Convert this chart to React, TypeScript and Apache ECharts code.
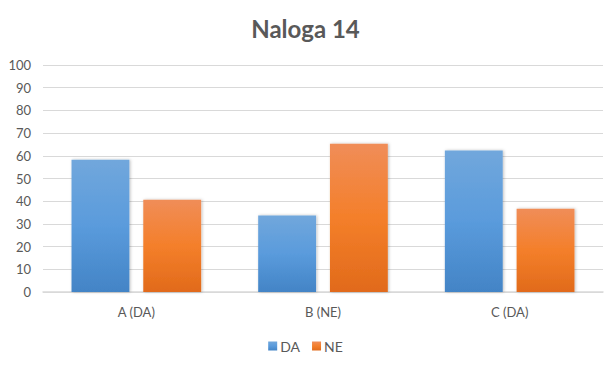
import React, { useEffect, useRef } from "react";
import * as echarts from "echarts";

const categories = ["A (DA)", "B (NE)", "C (DA)"];
const daValues = [58.3, 33.7, 62.3];
const neValues = [40.6, 65.3, 36.7];
const seriesNames = ["DA", "NE"];
const titleText = "Naloga 14";

const FONT = "Lato, 'Open Sans', sans-serif";

export default function App() {
  const ref = useRef<HTMLDivElement>(null);
  useEffect(() => {
    if (!ref.current) return;
    const chart = echarts.init(ref.current, undefined, { renderer: "svg" });
    const blue = new echarts.graphic.LinearGradient(0, 0, 0, 1, [
      { offset: 0, color: "#71a7dc" },
      { offset: 0.5, color: "#5a9bdc" },
      { offset: 1, color: "#4384c6" },
    ]);
    const orange = new echarts.graphic.LinearGradient(0, 0, 0, 1, [
      { offset: 0, color: "#f08d58" },
      { offset: 0.5, color: "#f47f2a" },
      { offset: 1, color: "#e16a1b" },
    ]);
    chart.setOption({
      animation: false,
      title: {
        text: titleText,
        left: "center",
        top: 11,
        textStyle: { fontFamily: FONT, fontSize: 24, fontWeight: "bold", color: "#595959" },
      },
      legend: {
        bottom: 12,
        left: "center",
        itemWidth: 9,
        itemHeight: 9,
        itemGap: 12,
        icon: "rect",
        textStyle: { fontFamily: FONT, fontSize: 14, color: "#595959", padding: [0, 0, 0, -2] },
        data: seriesNames,
      },
      grid: { left: 43, right: 8, top: 65, bottom: 78 },
      xAxis: {
        type: "category",
        data: categories,
        axisTick: { show: false },
        axisLine: { lineStyle: { color: "#d9d9d9", width: 1.5 } },
        axisLabel: { fontFamily: FONT, fontSize: 13, color: "#595959", margin: 13 },
      },
      yAxis: {
        type: "value",
        min: 0,
        max: 100,
        interval: 10,
        axisLine: { show: false },
        axisTick: { show: false },
        splitLine: { lineStyle: { color: "#d9d9d9" } },
        axisLabel: { fontFamily: FONT, fontSize: 13, color: "#595959", margin: 12 },
      },
      series: [
        {
          name: seriesNames[0],
          type: "bar",
          data: daValues,
          barWidth: "31%",
          barGap: "24%",
          itemStyle: { color: blue, shadowColor: "rgba(0,0,0,0.25)", shadowBlur: 3, shadowOffsetX: 1 },
        },
        {
          name: seriesNames[1],
          type: "bar",
          data: neValues,
          barWidth: "31%",
          barGap: "24%",
          itemStyle: { color: orange, shadowColor: "rgba(0,0,0,0.25)", shadowBlur: 3, shadowOffsetX: 1 },
        },
      ],
    });
    return () => chart.dispose();
  }, []);
  return (
    <div
      ref={ref}
      style={{ position: "fixed", left: 0, top: 0, width: 611, height: 370, background: "#fff" }}
    />
  );
}
